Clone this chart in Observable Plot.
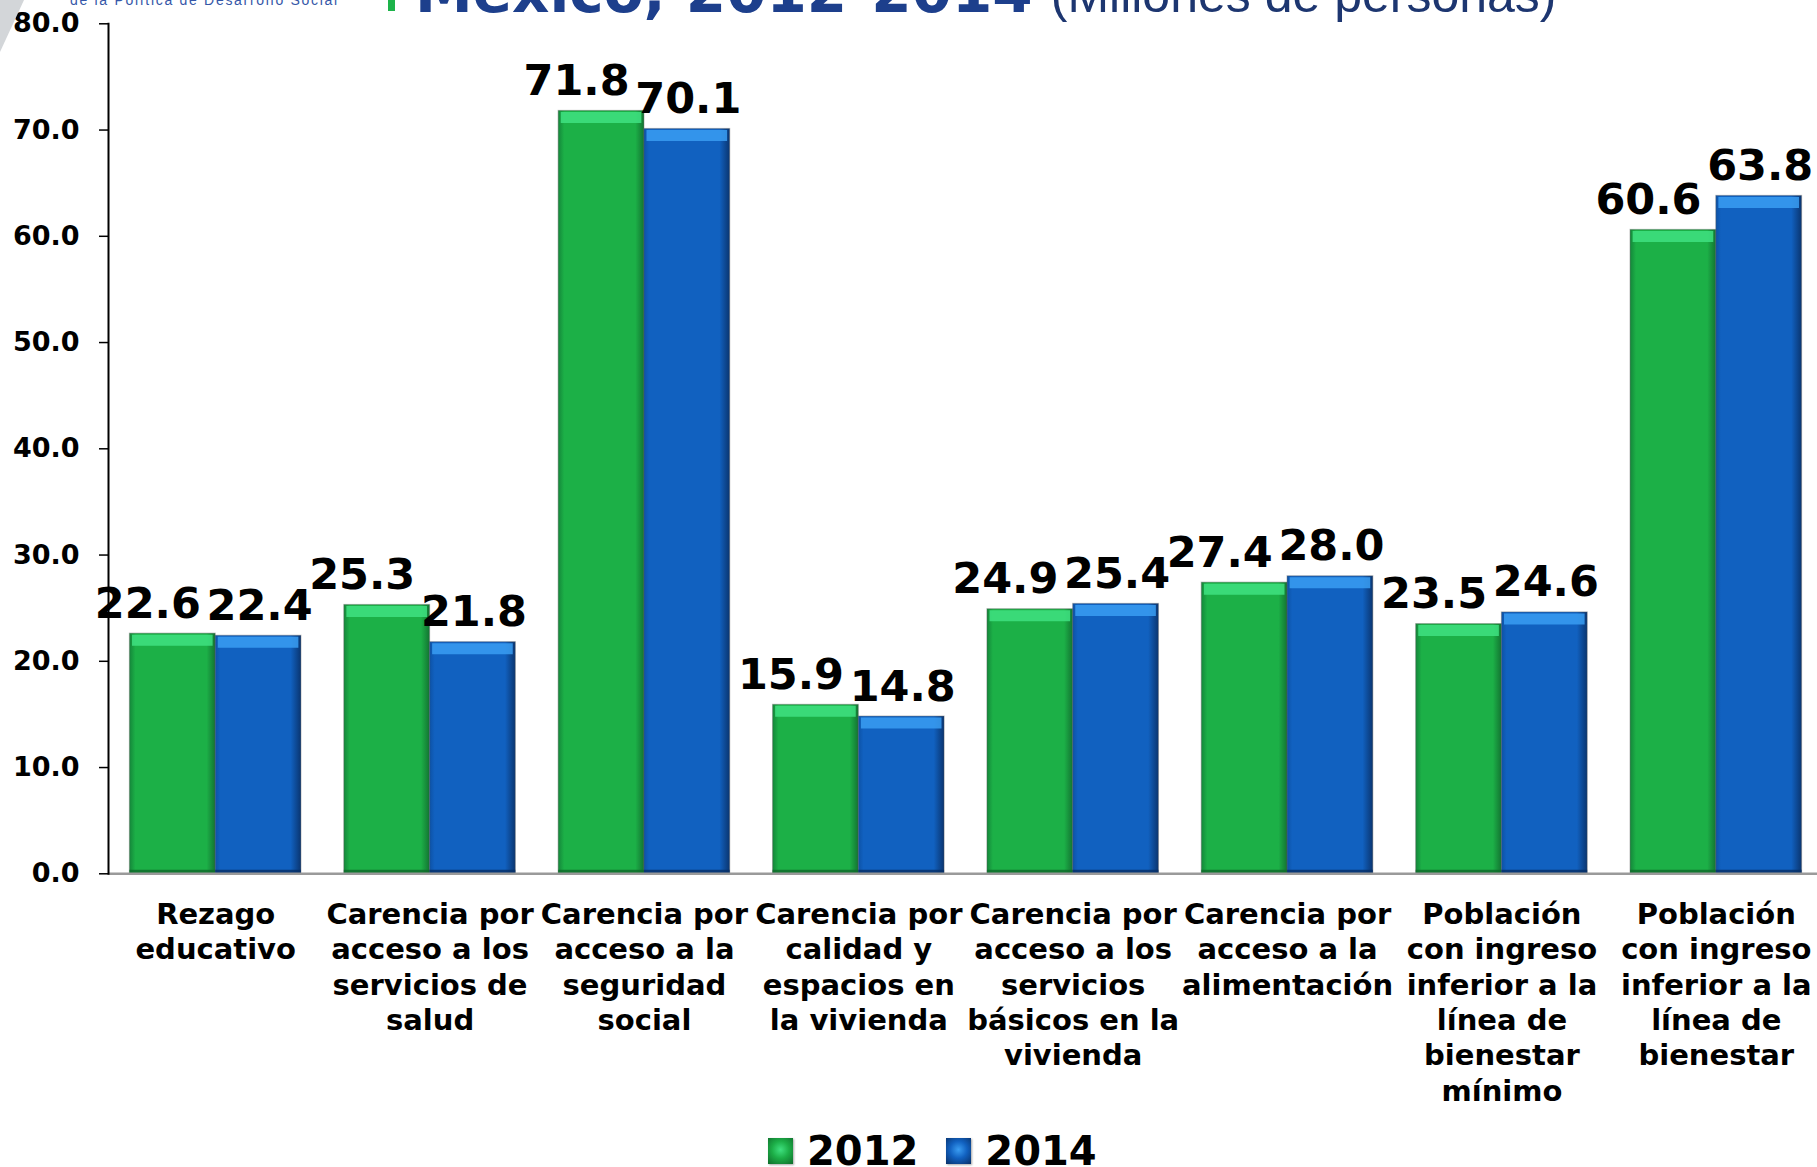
<!DOCTYPE html>
<html>
<head>
<meta charset="utf-8">
<script src="https://cdn.jsdelivr.net/npm/d3@7"></script>
<script src="https://cdn.jsdelivr.net/npm/@observablehq/plot@0.6"></script>
<style>
  html, body { margin: 0; padding: 0; background: #fff; overflow: hidden; }
  #page { position: relative; width: 1817px; height: 1167px; overflow: hidden; font-family: "DejaVu Sans", Verdana, sans-serif; }
  #chart { position: absolute; left: 0; top: 0; width: 1830px; }
  #header { position: absolute; left: 0; top: 0; }
  #legend { position: absolute; left: 768px; top: 1128px; display: flex; align-items: center; gap: 28px; font-weight: bold; font-size: 40px; color: #000; }
  #legend .item { display: flex; align-items: center; gap: 14px; }
  #legend .sw { width: 25px; height: 26px; box-shadow: 1px 1px 2px rgba(0,0,0,0.35); }
</style>
</head>
<body>
<div id="page">
  <div id="chart"></div>
  <svg id="header" width="1817" height="60"></svg>
  <div id="legend"></div>
</div>
<script>
// ---- Data ----
const categories = [
  "Rezago\neducativo",
  "Carencia por\nacceso a los\nservicios de\nsalud",
  "Carencia por\nacceso a la\nseguridad\nsocial",
  "Carencia por\ncalidad y\nespacios en\nla vivienda",
  "Carencia por\nacceso a los\nservicios\nbásicos en la\nvivienda",
  "Carencia por\nacceso a la\nalimentación",
  "Población\ncon ingreso\ninferior a la\nlínea de\nbienestar\nmínimo",
  "Población\ncon ingreso\ninferior a la\nlínea de\nbienestar"
];
const years = ["2012", "2014"];
const values2012 = [22.6, 25.3, 71.8, 15.9, 24.9, 27.4, 23.5, 60.6];
const values2014 = [22.4, 21.8, 70.1, 14.8, 25.4, 28.0, 24.6, 63.8];
const yTicks = [0, 10, 20, 30, 40, 50, 60, 70, 80];
const titleMain = "México, 2012-2014";
const titleSub = "(Millones de personas)";
const logoText = "de la Política de Desarrollo Social";

// ---- Build table ----
const rows2012 = categories.map((c, i) => ({i, category: c, year: years[0], value: values2012[i]}));
const rows2014 = categories.map((c, i) => ({i, category: c, year: years[1], value: values2014[i]}));
const barW = 0.4;
const fmt = d3.format(".1f");
const font = "'DejaVu Sans', Verdana, sans-serif";

const plot = Plot.plot({
  width: 1823,
  height: 1115,
  marginLeft: 108,
  marginRight: 0,
  marginTop: 23.3,
  marginBottom: 241.7,
  style: {fontFamily: font, background: "transparent", overflow: "visible", maxWidth: "none"},
  x: {domain: [-0.5, categories.length - 0.5], axis: null},
  y: {domain: [0, 80], ticks: yTicks, tickFormat: fmt, label: null},
  marks: [
    Plot.axisY({ticks: yTicks, tickFormat: fmt, tickSize: 9, tickPadding: 20, fontSize: 27, fontWeight: "bold", stroke: "#000", strokeWidth: 1.5, fill: "#000", label: null}),
    // bars (with bevel)
    Plot.rect(rows2012, {x1: d => d.i - barW, x2: d => d.i, y1: 0, y2: "value", fill: "url(#g2012)", stroke: "#555", strokeOpacity: 0.35, strokeWidth: 1.2}),
    Plot.rect(rows2014, {x1: d => d.i, x2: d => d.i + barW, y1: 0, y2: "value", fill: "url(#g2014)", stroke: "#555", strokeOpacity: 0.35, strokeWidth: 1.2}),
    Plot.ruleY(rows2012, {x1: d => d.i - barW + 0.012, x2: d => d.i - 0.012, y: "value", stroke: "#3fe281", strokeWidth: 11, dy: 6.5, strokeOpacity: 0.85}),
    Plot.ruleY(rows2014, {x1: d => d.i + 0.012, x2: d => d.i + barW - 0.012, y: "value", stroke: "#3a9df2", strokeWidth: 11, dy: 6.5, strokeOpacity: 0.85}),
    Plot.ruleY(rows2012, {x1: d => d.i - barW, x2: d => d.i, y: 0, stroke: "#0f6a2a", strokeWidth: 4, dy: -2, strokeOpacity: 0.8}),
    Plot.ruleY(rows2014, {x1: d => d.i, x2: d => d.i + barW, y: 0, stroke: "#082f66", strokeWidth: 4, dy: -2, strokeOpacity: 0.8}),
    // baseline and y axis line
    Plot.ruleY([0], {stroke: "#9a9a9a", strokeWidth: 2.5, insetRight: -10}),
    Plot.frame({anchor: "left", stroke: "#000", strokeWidth: 2}),
    // value labels
    Plot.text(rows2012, {x: d => d.i - barW / 2, y: "value", text: d => fmt(d.value), lineAnchor: "bottom", dy: -16, dx: -25, fontSize: 43, fontWeight: "bold", fill: "#000"}),
    Plot.text(rows2014, {x: d => d.i + barW / 2, y: "value", text: d => fmt(d.value), lineAnchor: "bottom", dy: -16, dx: 1, fontSize: 43, fontWeight: "bold", fill: "#000"}),
    // category labels
    Plot.text(categories, {x: (d, i) => i, text: d => d, frameAnchor: "bottom", lineAnchor: "top", dy: 25, lineHeight: 1.22, fontSize: 29, fontWeight: "bold", fill: "#000"})
  ]
});

// gradient defs for the bevelled bars
const defs = d3.select(plot).insert("defs", ":first-child");
function grad(id, stops) {
  const g = defs.append("linearGradient").attr("id", id).attr("x1", 0).attr("x2", 1).attr("y1", 0).attr("y2", 0);
  stops.forEach(([o, c]) => g.append("stop").attr("offset", o).attr("stop-color", c));
}
grad("g2012", [[0, "#14873a"], [0.07, "#1cb047"], [0.9, "#1cb047"], [1, "#137432"]]);
grad("g2014", [[0, "#0d52a6"], [0.06, "#1161c0"], [0.88, "#1161c0"], [1, "#0a3570"]]);
document.getElementById("chart").appendChild(plot);

// header (cropped title and logo strip at the very top)
const hdr = d3.select("#header");
hdr.append("polygon").attr("points", "0,0 24,0 0,52").attr("fill", "#d3d6d9");
hdr.append("text").attr("x", 70).attr("y", 5).attr("font-family", "'Liberation Sans', Arial, sans-serif")
  .attr("font-size", 14).attr("letter-spacing", 1.7).attr("fill", "#3557a8").text(logoText);
hdr.append("rect").attr("x", 388).attr("y", 0).attr("width", 7).attr("height", 11).attr("fill", "#1db34a");
const t = hdr.append("text").attr("x", 415).attr("y", 12);
t.append("tspan").attr("font-family", font).attr("font-weight", "bold").attr("font-size", 58)
  .attr("fill", "#1d3f8c").text(titleMain);
t.append("tspan").attr("dx", 18).attr("font-family", "'Liberation Sans Narrow', 'Liberation Sans', Arial, sans-serif")
  .attr("font-size", 50).attr("fill", "#1d3670").text(titleSub);

// legend
const legend = d3.select("#legend");
const swatchBg = {
  "2012": "radial-gradient(circle at 50% 45%, #3fe07f 0%, #1cae47 45%, #0f6b2b 100%)",
  "2014": "radial-gradient(circle at 50% 45%, #3a9df2 0%, #1161c0 45%, #082f66 100%)"
};
years.forEach(y => {
  const it = legend.append("div").attr("class", "item");
  it.append("div").attr("class", "sw").style("background", swatchBg[y]);
  it.append("span").text(y);
});
</script>
</body>
</html>
